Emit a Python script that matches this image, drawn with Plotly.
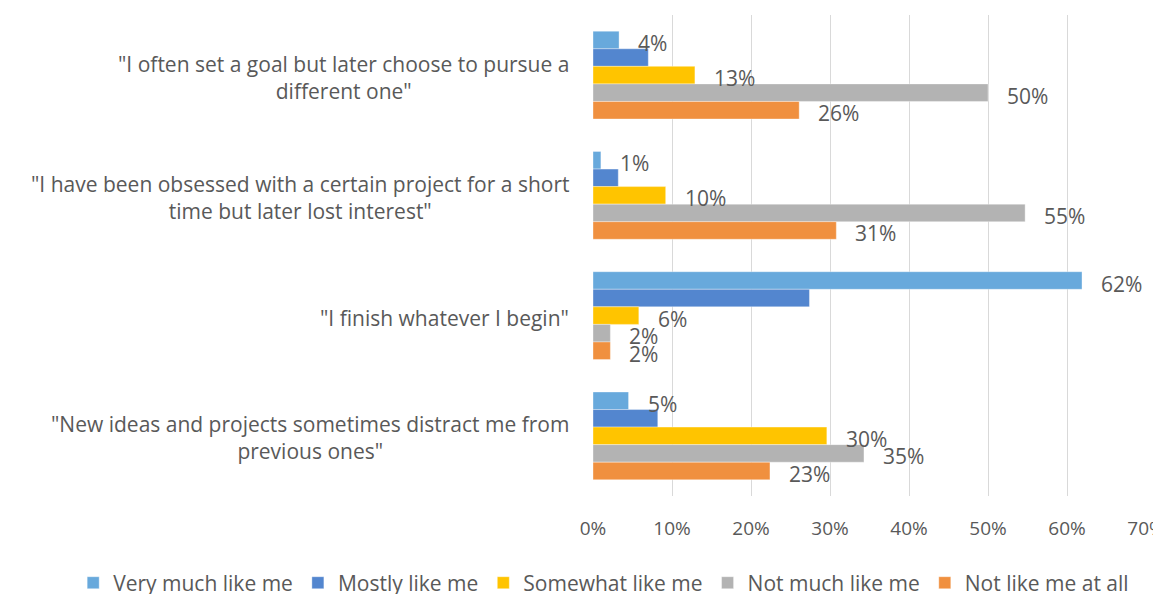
import plotly.graph_objects as go

categories = [
    '"I often set a goal but later choose to pursue a<br>different one"',
    '"I have been obsessed with a certain project for a short<br>time but later lost interest"',
    '"I finish whatever I begin"',
    '"New ideas and projects sometimes distract me from<br>previous ones"',
]
series_names = ["Very much like me", "Mostly like me", "Somewhat like me",
                "Not much like me", "Not like me at all"]

very_much = [0.033, 0.010, 0.619, 0.045]
mostly = [0.070, 0.032, 0.274, 0.082]
somewhat = [0.129, 0.092, 0.058, 0.296]
not_much = [0.500, 0.547, 0.022, 0.343]
not_at_all = [0.261, 0.308, 0.022, 0.224]

very_much_labels = ["4%", "1%", "62%", "5%"]
mostly_labels = [None, None, None, None]
somewhat_labels = ["13%", "10%", "6%", "30%"]
not_much_labels = ["50%", "55%", "2%", "35%"]
not_at_all_labels = ["26%", "31%", "2%", "23%"]

tick_values = [0, 0.1, 0.2, 0.3, 0.4, 0.5, 0.6, 0.7]

colors = ["#68a9dc", "#5386cf", "#ffc400", "#b3b3b3", "#f0903f"]
text_color = "#595959"
font_family = "Open Sans"
bargap = 0.27

values = [very_much, mostly, somewhat, not_much, not_at_all]
labels = [very_much_labels, mostly_labels, somewhat_labels, not_much_labels, not_at_all_labels]
positions = list(range(len(categories)))

fig = go.Figure()
for name, vals, col in zip(series_names, values, colors):
    fig.add_trace(go.Bar(
        name=name, x=vals, y=positions, orientation="h",
        marker=dict(color=col, line=dict(color="rgba(255,255,255,0.6)", width=0.6)),
        hoverinfo="x+name",
    ))

n = len(series_names)
group_w = 1 - bargap
annotations = []
for i, (vals, labs) in enumerate(zip(values, labels)):
    for c, (v, t) in enumerate(zip(vals, labs)):
        if t is None:
            continue
        ypos = positions[c] - group_w / 2 + (i + 0.5) * group_w / n
        annotations.append(dict(
            x=v, y=ypos, xref="x", yref="y", text=t, showarrow=False,
            xanchor="left", yanchor="middle", xshift=17, yshift=-3,
            font=dict(family=font_family, size=21, color=text_color),
        ))

for c, cat in enumerate(categories):
    annotations.append(dict(
        x=0, y=positions[c], xref="paper", yref="y", text=cat, showarrow=False,
        xanchor="right", yanchor="middle", align="center", xshift=-22, yshift=-2,
        font=dict(family=font_family, size=21, color=text_color),
    ))

# page body has an 8px default margin, so the figure is sized to the window minus it
fig.update_layout(
    width=1153, height=586,
    margin=dict(l=585, r=15, t=7, b=98, autoexpand=False),
    paper_bgcolor="white", plot_bgcolor="white",
    barmode="group", bargap=bargap, bargroupgap=0,
    font=dict(family=font_family, size=19, color=text_color),
    xaxis=dict(range=[0, 0.7], tickvals=tick_values, tickformat=".0%",
               showgrid=True, gridcolor="#d9d9d9", gridwidth=1,
               zeroline=False, showline=False, ticks="",
               ticklabelstandoff=19, automargin=False,
               ticklabeloverflow="allow",
               tickfont=dict(family=font_family, size=19, color=text_color)),
    yaxis=dict(range=[3.5, -0.5], showticklabels=False, showgrid=False,
               zeroline=False, showline=False, ticks="", automargin=False),
    legend=dict(orientation="h", xref="paper", yref="paper",
                x=-0.940, xanchor="left", y=-0.181, yanchor="middle",
                font=dict(family=font_family, size=21, color=text_color),
                itemwidth=30, traceorder="normal"),
    annotations=annotations,
    showlegend=True,
)

fig.write_html("out.html")
